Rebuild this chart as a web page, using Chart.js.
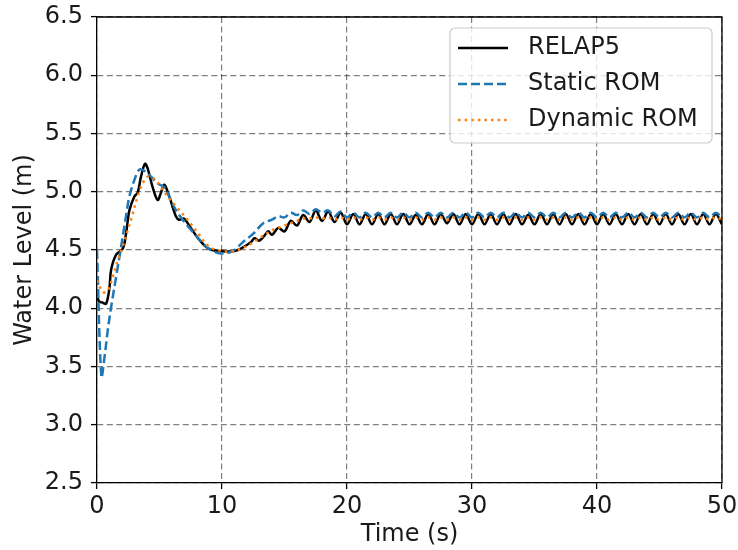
<!DOCTYPE html>
<html>
<head>
<meta charset="utf-8">
<script src="https://cdn.jsdelivr.net/npm/chart.js@4.4.0/dist/chart.umd.min.js"></script>
<style>
  body { margin: 0; background: #fff; }
  #wrap { width: 738px; height: 550px; }
</style>
</head>
<body>
<div id="wrap"><canvas id="levelChart" width="738" height="550"></canvas></div>
<script>
// --- DATA ---

// start-up transient
const relapEarlyTime = [0, 0.15, 0.4, 0.73, 1.0, 1.13, 1.53, 2.06, 2.32, 2.59, 2.99, 3.25, 3.52, 3.84, 4.05,
    4.45, 4.85, 5.11, 5.38, 5.78, 6.31, 6.57, 6.97, 7.37, 8.17, 8.96, 10.0, 10.87, 11.27, 11.8, 12.33,
    12.6, 12.97, 13.37, 13.7];
const relapEarlyLevel = [4.12, 4.06, 4.05, 4.04, 4.18, 4.33, 4.46, 4.51, 4.64, 4.84, 4.96, 4.99, 5.13, 5.24, 5.20,
    5.04, 4.93, 4.99, 5.06, 4.96, 4.79, 4.76, 4.77, 4.71, 4.59, 4.51, 4.49, 4.49, 4.50, 4.53, 4.57,
    4.60, 4.58, 4.62, 4.66];

const staticEarlyTime = [0, 0.35, 0.6, 0.86, 1.13, 1.53, 1.93, 2.32, 2.59, 2.99, 3.38, 3.78, 4.32, 4.85, 5.38,
    5.91, 6.32, 6.85, 7.39, 8.18, 8.98, 9.91, 10.84, 11.7, 12.5, 13.3];
const staticEarlyLevel = [4.50, 3.41, 3.58, 3.81, 4.01, 4.27, 4.53, 4.79, 4.96, 5.10, 5.19, 5.18, 5.13, 5.07, 5.04,
    4.93, 4.84, 4.76, 4.69, 4.59, 4.51, 4.47, 4.49, 4.57, 4.64, 4.73];

const dynamicEarlyTime = [0, 0.47, 0.86, 1.26, 1.66, 2.06, 2.46, 2.86, 3.25, 3.65, 4.05, 4.58, 5.11, 5.65, 6.44,
    7.39, 8.17, 8.96, 10.0, 10.87, 11.9, 12.97];
const dynamicEarlyLevel = [4.24, 4.14, 4.15, 4.27, 4.41, 4.53, 4.67, 4.81, 4.96, 5.07, 5.13, 5.11, 5.04, 4.96, 4.86,
    4.74, 4.63, 4.53, 4.49, 4.49, 4.53, 4.60];

// oscillating part, one sample per half period
const steadyTime = [14, 14.5, 15, 15.5, 16, 16.5, 17, 17.5, 18, 18.5, 19, 19.5, 20, 20.5, 21, 21.5,
    22, 22.5, 23, 23.5, 24, 24.5, 25, 25.5, 26, 26.5, 27, 27.5, 28, 28.5, 29, 29.5,
    30, 30.5, 31, 31.5, 32, 32.5, 33, 33.5, 34, 34.5, 35, 35.5, 36, 36.5, 37, 37.5,
    38, 38.5, 39, 39.5, 40, 40.5, 41, 41.5, 42, 42.5, 43, 43.5, 44, 44.5, 45, 45.5,
    46, 46.5, 47, 47.5, 48, 48.5, 49, 49.5, 50];
const relapSteadyLevel = [4.63, 4.69, 4.66, 4.75, 4.71, 4.80, 4.74, 4.84, 4.75, 4.83, 4.74, 4.82, 4.72, 4.81, 4.72, 4.81,
    4.72, 4.81, 4.72, 4.81, 4.72, 4.81, 4.72, 4.80, 4.72, 4.81, 4.72, 4.81, 4.73, 4.81, 4.72, 4.81,
    4.72, 4.81, 4.72, 4.81, 4.72, 4.81, 4.72, 4.81, 4.72, 4.80, 4.72, 4.81, 4.72, 4.81, 4.72, 4.81,
    4.72, 4.81, 4.72, 4.81, 4.72, 4.81, 4.72, 4.81, 4.72, 4.81, 4.72, 4.81, 4.72, 4.81, 4.72, 4.81,
    4.72, 4.81, 4.72, 4.81, 4.72, 4.81, 4.72, 4.81, 4.72];
const staticSteadyLevel = [4.76, 4.79, 4.78, 4.82, 4.80, 4.84, 4.81, 4.85, 4.82, 4.84, 4.79, 4.83, 4.78, 4.82, 4.78, 4.82,
    4.78, 4.82, 4.78, 4.82, 4.78, 4.82, 4.78, 4.82, 4.78, 4.82, 4.78, 4.82, 4.78, 4.82, 4.78, 4.82,
    4.78, 4.82, 4.78, 4.82, 4.78, 4.82, 4.78, 4.82, 4.78, 4.82, 4.78, 4.82, 4.78, 4.82, 4.78, 4.82,
    4.78, 4.82, 4.78, 4.82, 4.78, 4.82, 4.78, 4.82, 4.78, 4.82, 4.78, 4.82, 4.78, 4.82, 4.78, 4.82,
    4.78, 4.82, 4.78, 4.82, 4.78, 4.82, 4.78, 4.82, 4.78];
const dynamicSteadyLevel = [4.67, 4.69, 4.71, 4.73, 4.75, 4.77, 4.77, 4.78, 4.77, 4.78, 4.76, 4.78, 4.76, 4.78, 4.76, 4.78,
    4.76, 4.78, 4.76, 4.78, 4.76, 4.78, 4.76, 4.78, 4.76, 4.78, 4.76, 4.78, 4.76, 4.78, 4.76, 4.78,
    4.76, 4.78, 4.76, 4.78, 4.76, 4.78, 4.76, 4.78, 4.76, 4.78, 4.76, 4.78, 4.76, 4.78, 4.76, 4.78,
    4.76, 4.78, 4.76, 4.78, 4.76, 4.78, 4.76, 4.78, 4.76, 4.78, 4.76, 4.78, 4.76, 4.78, 4.76, 4.78,
    4.76, 4.78, 4.76, 4.78, 4.76, 4.78, 4.76, 4.78, 4.76];

const seriesLabels = ['RELAP5', 'Static ROM', 'Dynamic ROM'];
const xTicks = [0, 10, 20, 30, 40, 50];
const yTicks = [2.5, 3.0, 3.5, 4.0, 4.5, 5.0, 5.5, 6.0, 6.5];

// --- HELPERS ---

function toPoints(times, levels) {
    return times.map((t, i) => ({ x: t, y: levels[i] }));
}

const FONT = 'DejaVu Sans';
const FONT_SIZE = 24;

// matplotlib style frame and legend
const mplDecor = {
    id: 'mplDecor',
    afterDraw(chart) {
        const { ctx, chartArea: a } = chart;
        ctx.save();
        ctx.strokeStyle = '#000';
        ctx.lineWidth = 1.3;
        ctx.beginPath();
        ctx.moveTo(a.left, a.top);
        ctx.lineTo(a.right, a.top);
        ctx.lineTo(a.right, a.bottom);
        ctx.stroke();

        // legend box
        const bx = 450, by = 28, bw = 262, bh = 115, r = 5;
        ctx.beginPath();
        ctx.roundRect(bx, by, bw, bh, r);
        ctx.fillStyle = 'rgba(255,255,255,0.8)';
        ctx.fill();
        ctx.strokeStyle = '#cccccc';
        ctx.lineWidth = 1.2;
        ctx.stroke();

        const rows = [48, 84, 120];
        chart.data.datasets.forEach((ds, i) => {
            ctx.beginPath();
            ctx.strokeStyle = ds.borderColor;
            ctx.lineWidth = ds.borderWidth;
            ctx.setLineDash(ds.borderDash || []);
            ctx.moveTo(458, rows[i]);
            ctx.lineTo(508, rows[i]);
            ctx.stroke();
            ctx.setLineDash([]);
            ctx.fillStyle = '#1a1a1a';
            ctx.font = FONT_SIZE + 'px "' + FONT + '"';
            ctx.textBaseline = 'middle';
            ctx.fillText(ds.label, 528, rows[i]);
        });
        ctx.restore();
    }
};

// --- CHART ---

const ctx = document.getElementById('levelChart').getContext('2d');
new Chart(ctx, {
    type: 'line',
    data: {
        datasets: [
            {
                label: seriesLabels[0],
                data: toPoints(relapEarlyTime.concat(steadyTime), relapEarlyLevel.concat(relapSteadyLevel)),
                borderColor: '#000000',
                borderWidth: 2.5,
                borderDash: [],
                order: 3
            },
            {
                label: seriesLabels[1],
                data: toPoints(staticEarlyTime.concat(steadyTime), staticEarlyLevel.concat(staticSteadyLevel)),
                borderColor: '#1f77b4',
                borderWidth: 2.5,
                borderDash: [9, 4],
                order: 2
            },
            {
                label: seriesLabels[2],
                data: toPoints(dynamicEarlyTime.concat(steadyTime), dynamicEarlyLevel.concat(dynamicSteadyLevel)),
                borderColor: '#ff7f0e',
                borderWidth: 2.5,
                borderDash: [2.5, 4.1],
                order: 1
            }
        ]
    },
    options: {
        responsive: false,
        animation: false,
        layout: { padding: { left: 0, top: 17, right: 16, bottom: 0 } },
        elements: {
            point: { radius: 0 },
            line: { tension: 0.35, fill: false, borderCapStyle: 'butt' }
        },
        plugins: {
            legend: { display: false },
            tooltip: { enabled: false }
        },
        scales: {
            x: {
                type: 'linear',
                min: 0,
                max: 50,
                afterBuildTicks: (axis) => { axis.ticks = xTicks.map(v => ({ value: v })); },
                afterFit: (axis) => {
                    axis.height = 67;
                    axis.paddingLeft = 0;
                    axis.paddingRight = 0;
                },
                ticks: {
                    color: '#1a1a1a',
                    font: { family: FONT, size: FONT_SIZE },
                    padding: 3,
                    maxRotation: 0
                },
                grid: { color: 'rgba(0,0,0,0.5)', lineWidth: 1.2, tickLength: 6, tickColor: '#000', tickWidth: 1.3 },
                border: { display: true, color: '#000', width: 1.3, dash: [6, 3.5] },
                title: {
                    display: true,
                    text: 'Time (s)',
                    color: '#1a1a1a',
                    font: { family: FONT, size: FONT_SIZE },
                    padding: { top: 0, bottom: 1 }
                }
            },
            y: {
                type: 'linear',
                min: 2.5,
                max: 6.5,
                afterBuildTicks: (axis) => { axis.ticks = yTicks.map(v => ({ value: v })); },
                afterFit: (axis) => {
                    axis.width = 97;
                    axis.paddingTop = 0;
                    axis.paddingBottom = 0;
                },
                ticks: {
                    color: '#1a1a1a',
                    font: { family: FONT, size: FONT_SIZE },
                    padding: 8,
                    callback: (v) => v.toFixed(1)
                },
                grid: { color: 'rgba(0,0,0,0.5)', lineWidth: 1.2, tickLength: 6, tickColor: '#000', tickWidth: 1.3 },
                border: { display: true, color: '#000', width: 1.3, dash: [6, 3.5] },
                title: {
                    display: true,
                    text: 'Water Level (m)',
                    color: '#1a1a1a',
                    font: { family: FONT, size: FONT_SIZE },
                    padding: { top: 10, bottom: 0 }
                }
            }
        }
    },
    plugins: [mplDecor]
});
</script>
</body>
</html>
